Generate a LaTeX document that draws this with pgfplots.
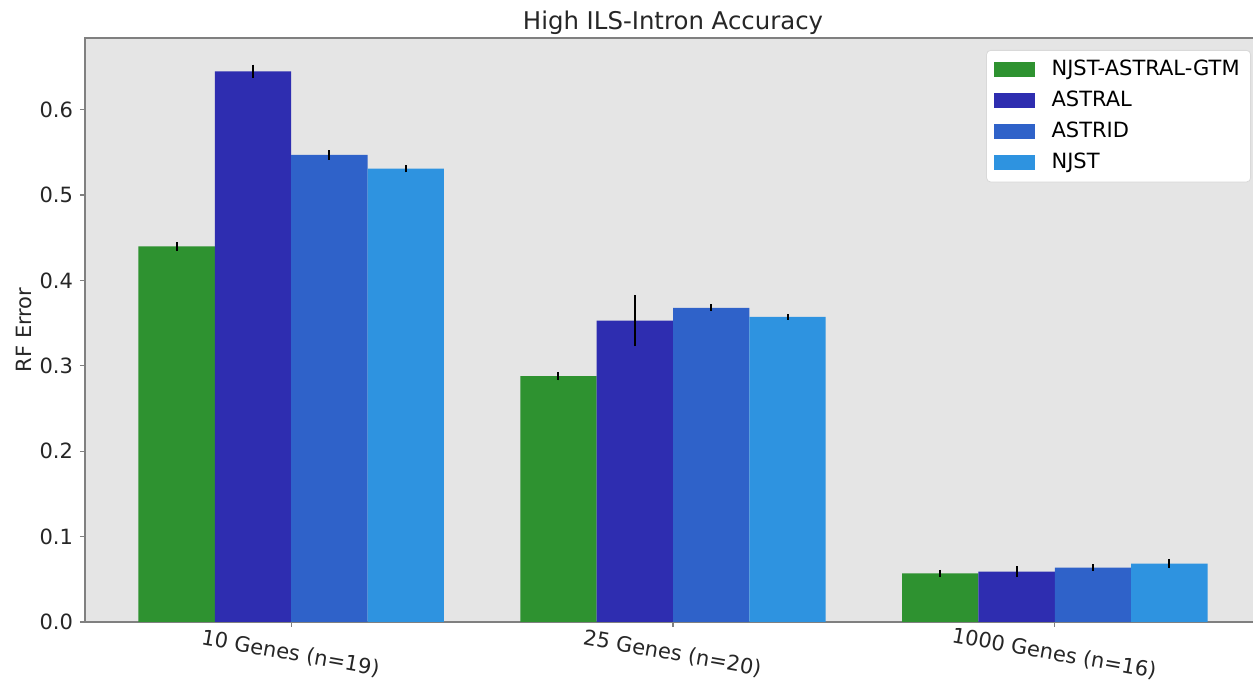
\documentclass[border=0pt]{standalone}
\usepackage{pgfplots}
\pgfplotsset{compat=1.18}
\usepackage{fontspec}
\setmainfont{DejaVu Sans}
\definecolor{cgtm}{RGB}{46,146,48}
\definecolor{castral}{RGB}{46,45,176}
\definecolor{castrid}{RGB}{47,98,201}
\definecolor{cnjst}{RGB}{46,147,224}
\definecolor{bgc}{RGB}{229,229,229}
\definecolor{spine}{RGB}{128,128,128}
\begin{document}
\begin{tikzpicture}
\path[use as bounding box] (-42.5pt,-30.5pt) rectangle (584pt,311pt);
\begin{axis}[
  at={(0,0)}, anchor=south west,
  scale only axis, width=588pt, height=292pt,
  xmin=-0.54, xmax=2.54, ymin=0, ymax=0.684,
  ybar, bar width=0.2, 
  axis background/.style={fill=bgc},
  axis line style={draw=spine, line width=0.8pt},
  tick style={draw=spine, line width=0.6pt},
  tick align=outside, major tick length=2.5pt,
  xtick pos=left, ytick pos=left,
  xtick={0,1,2},
  xticklabels={10 Genes (n=19), 25 Genes (n=20), 1000 Genes (n=16)},
  ytick={0,0.1,0.2,0.3,0.4,0.5,0.6},
  yticklabel style={/pgf/number format/fixed, /pgf/number format/fixed zerofill, /pgf/number format/precision=1, /pgf/number format/assume math mode=true, font=\fontsize{10.5}{12}\selectfont, text=black!85},
  xticklabel style={rotate=-10, anchor=north, yshift=-5pt, xshift=2pt, font=\fontsize{10.5}{12}\selectfont, text=black!85},
  ylabel={RF Error}, ylabel style={font=\fontsize{10.5}{12}\selectfont, text=black!85, yshift=-3pt},
  title={High ILS-Intron Accuracy}, title style={font=\fontsize{12.2}{14}\selectfont, text=black!85, yshift=-8pt},
  legend style={at={(axis description cs:1,1)}, anchor=north east, xshift=-5pt, yshift=-6pt,
    font=\fontsize{10.5}{12}\selectfont, draw=black!15, rounded corners=2pt, fill=white,
    row sep=2.2pt, inner xsep=3.5pt, inner ysep=3pt},
  legend cell align=left,
  legend image code/.code={\fill[#1, sharp corners] (0pt,-3.7pt) rectangle (20.5pt,3.7pt); \path (27pt,0pt);},
  error bars/y dir=both, error bars/y explicit,
  error bars/error mark=none,
  error bars/error bar style={black, line width=1pt},
]
\addplot[fill=cgtm, draw=none, bar shift=0pt] coordinates {
  (-0.3,0.440) +- (0,0.005)
  (0.7,0.288) +- (0,0.005)
  (1.7,0.057) +- (0,0.004)
};
\addlegendentry{NJST-ASTRAL-GTM}
\addplot[fill=castral, draw=none, bar shift=0pt] coordinates {
  (-0.1,0.645) +- (0,0.0078)
  (0.9,0.353) +- (0,0.030)
  (1.9,0.059) +- (0,0.0064)
};
\addlegendentry{ASTRAL}
\addplot[fill=castrid, draw=none, bar shift=0pt] coordinates {
  (0.1,0.547) +- (0,0.0055)
  (1.1,0.368) +- (0,0.004)
  (2.1,0.0637) +- (0,0.004)
};
\addlegendentry{ASTRID}
\addplot[fill=cnjst, draw=none, bar shift=0pt] coordinates {
  (0.3,0.531) +- (0,0.0045)
  (1.3,0.3574) +- (0,0.0035)
  (2.3,0.0684) +- (0,0.0055)
};
\addlegendentry{NJST}
\end{axis}
\end{tikzpicture}
\end{document}
